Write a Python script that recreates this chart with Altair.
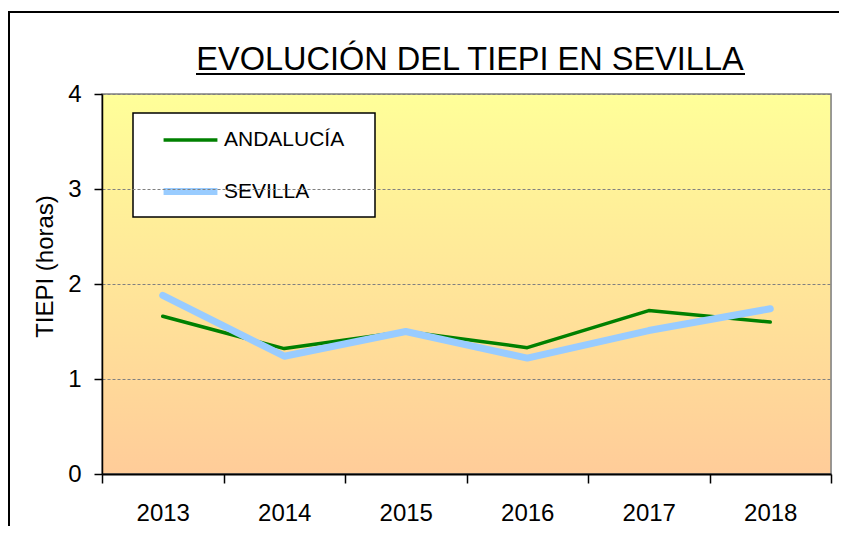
import altair as alt
import pandas as pd

# ---- data ----
years = ["2013", "2014", "2015", "2016", "2017", "2018"]
andalucia = [1.66, 1.32, 1.50, 1.33, 1.72, 1.60]
sevilla = [1.88, 1.24, 1.50, 1.22, 1.51, 1.74]
series_names = ["ANDALUCÍA", "SEVILLA"]
series_colors = ["#008000", "#99CCFF"]
series_widths = [3.5, 7]
y_ticks = [0, 1, 2, 3, 4]
title_text = "EVOLUCIÓN DEL TIEPI  EN SEVILLA"
y_title = "TIEPI (horas)"

df = pd.DataFrame({
    "year": years * 2,
    "value": andalucia + sevilla,
    "serie": [series_names[0]] * len(years) + [series_names[1]] * len(years),
})

W, H = 729, 380
FONT = "Liberation Sans, Arial, sans-serif"

x_enc = alt.X(
    "year:N",
    title=None,
    bandPosition=0.5,
    scale=alt.Scale(type="band", paddingInner=0, paddingOuter=0),
    axis=alt.Axis(
        labelAngle=0, tickBand="extent", domainColor="black", domainWidth=2,
        tickColor="black", tickSize=9, tickWidth=1.5, labelFont=FONT,
        labelFontSize=24, labelColor="black", labelPadding=18, grid=False,
        zindex=1,
    ),
)
y_enc = alt.Y(
    "value:Q",
    title=y_title,
    scale=alt.Scale(domain=[0, 4], nice=False),
    axis=alt.Axis(
        values=y_ticks, format="d", domainColor="black", domainWidth=1.5,
        tickColor="black", tickSize=8, tickWidth=1.5, labelFont=FONT,
        labelFontSize=24, labelColor="black", labelPadding=13,
        grid=True, gridColor="#808080", gridDash=[3, 2], gridWidth=1,
        titleFont=FONT, titleFontSize=24, titleFontWeight="normal",
        titleColor="black", titlePadding=10, titleY=172, zindex=1,
    ),
)

gradient = alt.LinearGradient(
    gradient="linear", x1=0, y1=0, x2=0, y2=1,
    stops=[alt.GradientStop(offset=0, color="#FFFF99"),
           alt.GradientStop(offset=1, color="#FFCC99")],
)

frame = alt.Chart().mark_rect(fill="white", fillOpacity=0, stroke="black",
                              strokeWidth=2, clip=False).encode(
    x=alt.value(-93), y=alt.value(-82), x2=alt.value(2000), y2=alt.value(2000)
)

background = alt.Chart().mark_rect(color=gradient, stroke="#808080",
                                   strokeWidth=1.5).encode(
    x=alt.value(0), x2=alt.value(W), y=alt.value(0), y2=alt.value(H)
)

legend_box = alt.Chart().mark_rect(fill="white", stroke="black",
                                   strokeWidth=1.5).encode(
    x=alt.value(31), x2=alt.value(273), y=alt.value(19), y2=alt.value(123)
)

lines = alt.Chart(df).mark_line(strokeCap="round", strokeJoin="round").encode(
    x=x_enc,
    y=y_enc,
    color=alt.Color(
        "serie:N",
        scale=alt.Scale(domain=series_names, range=series_colors),
        legend=alt.Legend(
            title=None, orient="none", legendX=58, legendY=17, padding=0,
            symbolType="stroke", symbolSize=2900, symbolOffset=0,
            labelFont=FONT, labelFontSize=21, labelColor="black",
            labelOffset=3, rowPadding=11,
        ),
    ),
    strokeWidth=alt.StrokeWidth(
        "serie:N",
        scale=alt.Scale(domain=series_names, range=series_widths),
    ),
)

title = alt.Chart().mark_text(
    font=FONT, fontSize=32.5, color="black", align="center", baseline="alphabetic"
).encode(x=alt.value(368), y=alt.value(-24), text=alt.value(title_text))

underline = alt.Chart().mark_rule(color="black", strokeWidth=2).encode(
    x=alt.value(94), x2=alt.value(643), y=alt.value(-20)
)

chart = alt.layer(frame, background, legend_box, lines, title, underline).properties(
    width=W, height=H,
    autosize=alt.AutoSizeParams(type="none"),
    padding={"left": 94, "top": 86, "right": 8, "bottom": 52},
).configure_view(stroke=None).configure(background="white")

chart.save("out.html", embed_options={"renderer": "svg", "actions": False})
